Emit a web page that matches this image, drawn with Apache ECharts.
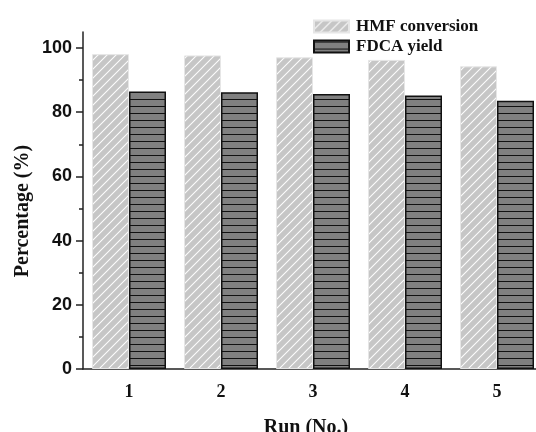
<!DOCTYPE html>
<html>
<head>
    <meta charset="utf-8">
    <title>Run (No.)</title>
    <script src="https://cdn.jsdelivr.net/npm/echarts@6/dist/echarts.min.js"></script>
    <style>
        html, body { margin: 0; padding: 0; background: #fff; }
    </style>
</head>
<body>
<!-- 图表容器 -->
<div id="main" style="width:536px;height:432px;"></div>
<script type="text/javascript">
    // 数据
    var runs = ['1', '2', '3', '4', '5'];
    var hmfConversion = [98.1, 97.7, 97.1, 96.3, 94.3];
    var fdcaYield = [86.5, 86.2, 85.7, 85.2, 83.6];
    var yMajorTicks = [0, 20, 40, 60, 80, 100];
    var yMinorTicks = [10, 30, 50, 70, 90];

    // 斜线填充 (HMF)
    function hatchDiag() {
        var s = 9;
        var c = document.createElement('canvas');
        c.width = s; c.height = s;
        var ctx = c.getContext('2d');
        ctx.fillStyle = '#c6c6c6';
        ctx.fillRect(0, 0, s, s);
        ctx.strokeStyle = 'rgba(255,255,255,0.95)';
        ctx.lineWidth = 1.1;
        ctx.beginPath();
        ctx.moveTo(-1, s + 1); ctx.lineTo(s + 1, -1);
        ctx.moveTo(-1, 1); ctx.lineTo(1, -1);
        ctx.moveTo(s - 1, s + 1); ctx.lineTo(s + 1, s - 1);
        ctx.stroke();
        return c;
    }

    // 横线填充 (FDCA)
    function hatchHoriz() {
        var c = document.createElement('canvas');
        c.width = 7; c.height = 7;
        var ctx = c.getContext('2d');
        ctx.fillStyle = '#808080';
        ctx.fillRect(0, 0, 7, 7);
        ctx.fillStyle = '#111';
        ctx.fillRect(0, 1, 7, 1);
        return c;
    }

    var myChart = echarts.init(document.getElementById('main'));
    var serif = '"Liberation Serif", "Times New Roman", serif';
    var sans = '"Liberation Sans", Arial, sans-serif';

    var option = {
        animation: false,
        backgroundColor: '#fff',
        legend: {
            orient: 'vertical',
            left: 308,
            top: 13,
            icon: 'rect',
            itemWidth: 35,
            itemHeight: 12,
            itemGap: 3,
            textStyle: { fontFamily: serif, fontWeight: 'bold', fontSize: 17, color: '#111', padding: [0, 0, 0, 2] },
            data: ['HMF conversion', 'FDCA yield']
        },
        grid: { left: 83, width: 460, top: 32, bottom: 63, outerBoundsMode: 'none', containLabel: false },
        xAxis: [
            {
                type: 'category',
                data: runs,
                boundaryGap: true,
                axisLine: { lineStyle: { color: '#222', width: 1.5 } },
                axisTick: { length: 4, lineStyle: { color: '#222', width: 1.5 } },
                axisLabel: { margin: 14, fontFamily: serif, fontWeight: 'bold', fontSize: 18, color: '#111' }
            },
            {
                type: 'category',
                data: runs,
                position: 'bottom',
                boundaryGap: true,
                axisLine: { show: false },
                axisTick: { alignWithLabel: true, length: 7, lineStyle: { color: '#222', width: 1.5 } },
                axisLabel: { show: false }
            }
        ],
        yAxis: [
            {
                type: 'value',
                min: 0,
                max: 105,
                splitLine: { show: false },
                axisLine: { show: true, lineStyle: { color: '#222', width: 1.5 } },
                axisTick: { show: true, length: 7, customValues: yMajorTicks, lineStyle: { color: '#222', width: 1.5 } },
                axisLabel: { margin: 11, customValues: yMajorTicks, fontFamily: sans, fontWeight: 'bold', fontSize: 18, color: '#111' }
            },
            {
                type: 'value',
                min: 0,
                max: 105,
                position: 'left',
                splitLine: { show: false },
                axisLine: { show: false },
                axisTick: { show: true, length: 4, customValues: yMinorTicks, lineStyle: { color: '#222', width: 1.5 } },
                axisLabel: { show: false }
            }
        ],
        graphic: [
            {
                type: 'text',
                x: 23, y: 211,
                rotation: Math.PI / 2,
                style: {
                    text: 'Percentage (%)',
                    fontFamily: serif, fontWeight: 'bold', fontSize: 20, fill: '#111',
                    align: 'center', verticalAlign: 'middle'
                }
            },
            {
                type: 'text',
                x: 306, y: 428,
                style: {
                    text: 'Run (No.)',
                    fontFamily: serif, fontWeight: 'bold', fontSize: 20, fill: '#111',
                    align: 'center', verticalAlign: 'middle'
                }
            }
        ],
        series: [
            {
                name: 'HMF conversion',
                type: 'bar',
                data: hmfConversion,
                barWidth: 37,
                barGap: '0%',
                itemStyle: {
                    color: { image: hatchDiag(), repeat: 'repeat' },
                    borderColor: '#e6e6e6',
                    borderWidth: 1
                }
            },
            {
                name: 'FDCA yield',
                type: 'bar',
                data: fdcaYield,
                barWidth: 37,
                barGap: '0%',
                itemStyle: {
                    color: { image: hatchHoriz(), repeat: 'repeat' },
                    borderColor: '#111',
                    borderWidth: 1.5
                }
            }
        ]
    };

    myChart.setOption(option);
</script>
</body>
</html>
